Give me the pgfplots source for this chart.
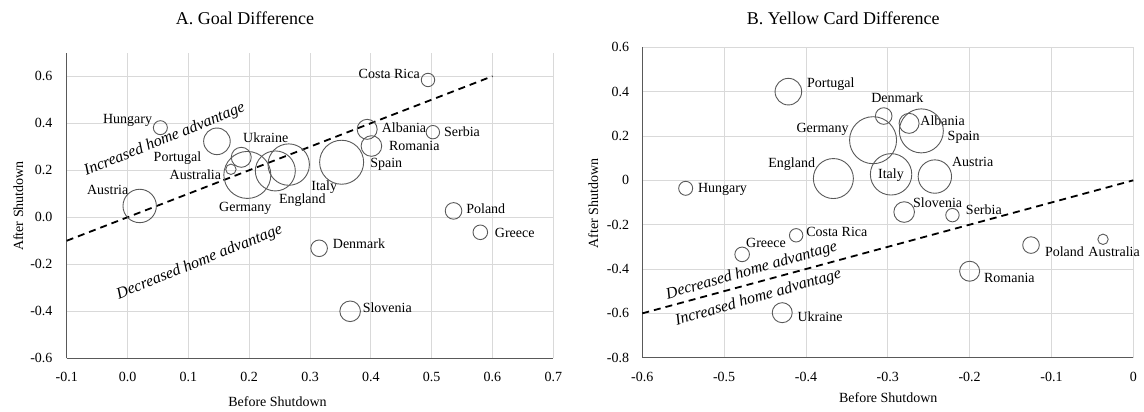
\documentclass[border=0pt]{standalone}
\usepackage{fontspec}
\setmainfont{Liberation Serif}
\usepackage{pgfplots}
\pgfplotsset{compat=1.18}
\usepackage{pgfplotstable}
\definecolor{gridc}{HTML}{D9D9D9}
\definecolor{axc}{HTML}{595959}
\definecolor{bub}{HTML}{595959}

% Goal difference: before, after, bubble radius (pt)
\pgfplotstableread{
name x y r
Hungary 0.054 0.381 7.0
Portugal 0.147 0.323 13.3
Ukraine 0.187 0.255 10.0
Australia 0.170 0.204 5.2
Germany 0.197 0.180 23.5
England 0.243 0.197 20.0
Italy 0.265 0.224 20.7
Austria 0.020 0.048 16.7
CostaRica 0.494 0.584 6.7
Albania 0.394 0.374 10.0
Romania 0.401 0.303 10.3
Serbia 0.502 0.362 6.7
Spain 0.352 0.234 22.0
Poland 0.536 0.027 8.3
Greece 0.580 -0.064 7.3
Denmark 0.315 -0.132 8.3
Slovenia 0.366 -0.400 10.3
}\goaltab

% Yellow card difference
\pgfplotstableread{
name x y r
Portugal -0.4215 0.400 13.3
Germany -0.318 0.181 23.5
England -0.3665 0.008 20.0
Hungary -0.547 -0.036 7.0
CostaRica -0.412 -0.248 6.7
Greece -0.478 -0.334 7.3
Ukraine -0.429 -0.597 10.0
Denmark -0.305 0.290 8.3
Albania -0.274 0.257 10.0
Spain -0.259 0.223 22.0
Italy -0.296 0.027 20.7
Austria -0.2425 0.017 16.7
Slovenia -0.280 -0.143 10.3
Serbia -0.221 -0.157 6.7
Poland -0.125 -0.292 8.3
Australia -0.037 -0.266 5.2
Romania -0.200 -0.410 10.0
}\yellowtab

\pgfplotsset{
  panel/.style={
    scale only axis, anchor=south west, clip=false,
    axis x line*=bottom, axis y line*=left,
    axis line style={axc, line width=0.9pt},
    grid=major, major grid style={gridc, line width=0.8pt},
    tick style={draw=none}, major tick length=0pt,
    ticklabel style={font=\fontsize{14}{16}\selectfont, inner sep=0pt},
    /pgf/number format/assume math mode=true,
  },
  bubbles/.style={
    scatter, only marks, mark=o, point meta=\thisrow{r},
    scatter/use mapped color={draw=bub},
    visualization depends on={\thisrow{r}\as\rad},
    scatter/@pre marker code/.append style={/tikz/mark size=\rad},
    mark options={line width=0.9pt, draw=bub},
  },
}
\tikzset{
  lbl/.style={font=\fontsize{14}{16}\selectfont, anchor=base, yshift=-4.6pt, inner sep=0pt},
  ann/.style={font=\fontsize{16}{18}\selectfont\itshape, anchor=center, inner sep=0pt},
}

\begin{document}
\begin{tikzpicture}[x=1pt,y=1pt]
\useasboundingbox (0,0) rectangle (1144,412);

% ---------------- Panel A ----------------
\begin{axis}[panel,
  at={(66.7pt,53.7pt)}, width=486.6pt, height=305.6pt,
  xmin=-0.1, xmax=0.7, ymin=-0.6, ymax=0.7,
  xtick={-0.1,0,0.1,0.2,0.3,0.4,0.5,0.6,0.7},
  ytick={-0.6,-0.4,-0.2,0,0.2,0.4,0.6},
  xticklabel style={anchor=base, yshift=-23.7pt, /pgf/number format/.cd, fixed, fixed zerofill, precision=1},
  yticklabel style={anchor=east, xshift=-14pt, /pgf/number format/.cd, fixed, fixed zerofill, precision=1},
]
\addplot[black, line width=1.8pt, dash pattern=on 7pt off 5pt] coordinates {(-0.1,-0.1) (0.6,0.6)};
\addplot[bubbles] table[x=x,y=y] {\goaltab};
\node[lbl] at (axis cs:0.000,0.417) {Hungary};
\node[lbl] at (axis cs:0.0821,0.255) {Portugal};
\node[lbl] at (axis cs:0.2272,0.336) {Ukraine};
\node[lbl] at (axis cs:0.1115,0.180) {Australia};
\node[lbl] at (axis cs:-0.0326,0.116) {Austria};
\node[lbl] at (axis cs:0.1936,0.045) {Germany};
\node[lbl] at (axis cs:0.2874,0.078) {England};
\node[lbl] at (axis cs:0.3234,0.134) {Italy};
\node[lbl] at (axis cs:0.4303,0.609) {Costa Rica};
\node[lbl] at (axis cs:0.4546,0.379) {Albania};
\node[lbl] at (axis cs:0.550,0.362) {Serbia};
\node[lbl] at (axis cs:0.4715,0.303) {Romania};
\node[lbl] at (axis cs:0.4254,0.232) {Spain};
\node[lbl] at (axis cs:0.589,0.035) {Poland};
\node[lbl] at (axis cs:0.6366,-0.068) {Greece};
\node[lbl] at (axis cs:0.3805,-0.114) {Denmark};
\node[lbl] at (axis cs:0.427,-0.387) {Slovenia};
\node[ann, rotate=22] at (axis cs:0.0611,0.329) {Increased home advantage};
\node[ann, rotate=22] at (axis cs:0.1185,-0.192) {Decreased home advantage};
\end{axis}

% ---------------- Panel B ----------------
\begin{axis}[panel,
  at={(642.3pt,54.3pt)}, width=491pt, height=310.4pt,
  xmin=-0.6, xmax=0, ymin=-0.8, ymax=0.6,
  xtick={-0.6,-0.5,-0.4,-0.3,-0.2,-0.1,0},
  ytick={-0.8,-0.6,-0.4,-0.2,0,0.2,0.4,0.6},
  xticklabel style={anchor=base, yshift=-24pt, /pgf/number format/fixed},
  yticklabel style={anchor=east, xshift=-13pt, /pgf/number format/fixed},
]
\addplot[black, line width=1.8pt, dash pattern=on 7pt off 5pt] coordinates {(-0.6,-0.6) (0,0)};
\addplot[bubbles] table[x=x,y=y] {\yellowtab};
\node[lbl] at (axis cs:-0.3696,0.441) {Portugal};
\node[lbl] at (axis cs:-0.3797,0.238) {Germany};
\node[lbl] at (axis cs:-0.4174,0.080) {England};
\node[lbl] at (axis cs:-0.502,-0.036) {Hungary};
\node[lbl] at (axis cs:-0.3623,-0.232) {Costa Rica};
\node[lbl] at (axis cs:-0.4488,-0.281) {Greece};
\node[lbl] at (axis cs:-0.3828,-0.615) {Ukraine};
\node[lbl] at (axis cs:-0.2883,0.373) {Denmark};
\node[lbl] at (axis cs:-0.233,0.268) {Albania};
\node[lbl] at (axis cs:-0.2073,0.200) {Spain};
\node[lbl] at (axis cs:-0.1963,0.084) {Austria};
\node[lbl] at (axis cs:-0.2962,0.027) {Italy};
\node[lbl] at (axis cs:-0.2391,-0.101) {Slovenia};
\node[lbl] at (axis cs:-0.1826,-0.134) {Serbia};
\node[lbl] at (axis cs:-0.0841,-0.322) {Poland};
\node[lbl] at (axis cs:-0.0234,-0.322) {Australia};
\node[lbl] at (axis cs:-0.1515,-0.442) {Romania};
\node[ann, rotate=16] at (axis cs:-0.4663,-0.409) {Decreased home advantage};
\node[ann, rotate=16] at (axis cs:-0.4582,-0.530) {Increased home advantage};
\end{axis}

% titles and axis titles
\node[anchor=base, inner sep=0pt, font=\fontsize{18}{20}\selectfont] at (245,387) {A. Goal Difference};
\node[anchor=base, inner sep=0pt, font=\fontsize{18}{20}\selectfont] at (843.3,387) {B. Yellow Card Difference};
\node[anchor=base, inner sep=0pt, font=\fontsize{14}{16}\selectfont] at (277.5,5.3) {Before Shutdown};
\node[anchor=base, inner sep=0pt, font=\fontsize{14}{16}\selectfont] at (888.3,9) {Before Shutdown};
\node[anchor=center, inner sep=0pt, rotate=90, font=\fontsize{14}{16}\selectfont] at (18.3,206) {After Shutdown};
\node[anchor=center, inner sep=0pt, rotate=90, font=\fontsize{14}{16}\selectfont] at (593.3,208.7) {After Shutdown};
\end{tikzpicture}
\end{document}
